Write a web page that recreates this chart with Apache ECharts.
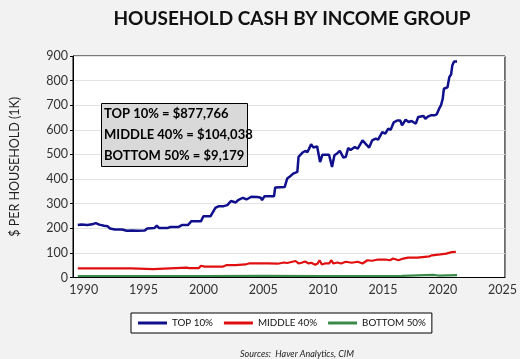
<!DOCTYPE html>
<html><head><meta charset="utf-8">
<script src="https://cdn.jsdelivr.net/npm/echarts@6/dist/echarts.min.js"></script>
<style>html,body{margin:0;padding:0;background:#f2f2f2}#c{width:520px;height:359px}</style>
</head><body><div id="c"></div>
<script>
const titleText = 'HOUSEHOLD CASH BY INCOME GROUP';
const yAxisName = '$ PER HOUSEHOLD (1K)';
const sourceText = 'Sources:  Haver Analytics, CIM';
const seriesNames = ['TOP 10%', 'MIDDLE 40%', 'BOTTOM 50%'];
const annotationLines = ['TOP 10% = $877,766', 'MIDDLE 40% = $104,038', 'BOTTOM 50% = $9,179'];
const xTickLabels = [1990, 1995, 2000, 2005, 2010, 2015, 2020, 2025];
const yTicks = {min: 0, max: 900, interval: 100};

const top10 = [
[1989.5,213],[1989.8,215],[1990.3,213],[1990.7,216],[1991.0,221],[1991.3,215],[1991.7,210],[1992.0,208],
[1992.2,199],[1992.6,195],[1993.2,195],[1993.6,190],[1994.0,191],[1994.5,190],[1995.1,191],[1995.3,199],
[1995.9,201],[1996.1,211],[1996.3,201],[1997.0,201],[1997.2,205],[1997.9,205],[1998.2,213],[1998.7,213],
[1999.0,229],[1999.8,229],[2000.0,249],[2000.6,249],[2000.75,256],[2001.0,283],[2001.3,290],[2001.7,290],
[2001.8,298],[2002.0,294],[2002.3,311],[2002.7,305],[2002.9,314],[2003.3,324],[2003.6,317],[2004.0,328],
[2004.5,327],[2004.8,324],[2004.9,314],[2005.1,330],[2005.9,330],[2006.0,366],[2006.8,368],[2007.0,402],
[2007.2,409],[2007.5,422],[2007.85,429],[2007.95,490],[2008.3,508],[2008.5,514],[2008.7,510],[2009.0,541],
[2009.2,528],[2009.5,533],[2009.75,469],[2009.95,499],[2010.5,499],[2010.75,449],[2010.95,497],[2011.2,505],
[2011.4,515],[2011.7,487],[2011.9,490],[2012.1,526],[2012.3,518],[2012.65,530],[2012.9,524],[2013.3,557],
[2013.6,541],[2013.85,528],[2014.1,557],[2014.4,564],[2014.6,560],[2014.95,591],[2015.2,585],[2015.45,605],
[2015.65,600],[2015.9,630],[2016.2,638],[2016.45,638],[2016.6,618],[2016.9,641],[2017.15,632],[2017.4,636],
[2017.75,625],[2017.95,652],[2018.4,656],[2018.55,645],[2018.8,655],[2019.0,659],[2019.3,659],[2019.5,663],
[2019.7,686],[2019.85,699],[2020.0,726],[2020.1,767],[2020.4,773],[2020.55,814],[2020.7,825],[2020.8,861],
[2020.95,878],[2021.2,878]
];
const middle40 = [
[1989.5,37],[1994.0,37],[1994.1,34],[1995.8,34],[1995.9,40],[1998.6,40],[1998.8,38],[1999.6,38],
[1999.8,48],[2000.1,44],[2001.6,44],[2001.9,50],[2002.7,50],[2002.8,53],[2003.5,53],[2003.8,57],
[2005.4,57],[2006.2,56],[2006.75,61],[2007.0,59],[2007.7,67],[2007.95,57],[2008.2,60],[2008.5,65],
[2008.8,57],[2009.0,60],[2009.35,52],[2009.55,57],[2009.7,70],[2009.9,53],[2010.15,57],[2010.5,57],
[2010.7,70],[2010.85,57],[2011.2,61],[2011.5,57],[2011.9,64],[2012.4,60],[2012.9,64],[2013.3,57],
[2013.7,70],[2014.1,68],[2014.6,73],[2015.2,73],[2015.6,70],[2015.85,77],[2016.3,70],[2016.7,77],
[2017.1,81],[2017.9,81],[2018.0,86],[2018.9,86],[2019.1,90],[2019.8,94],[2020.3,97],[2020.75,103],[2021.1,104]
];
const bottom50 = [
[1989.5,6],[1995.0,6],[2000.0,6],[2005.0,6.5],[2010.0,6],[2016.6,6.5],[2016.7,10.5],[2019.2,10.5],
[2019.3,8],[2019.6,8],[2019.7,9.5],[2021.2,9.5]
];
const colors = ['#10108c', '#e01010', '#3a8a4a'];

const chart = echarts.init(document.getElementById('c'));
const F = 'Lato, "Open Sans", sans-serif';
chart.setOption({
  backgroundColor: '#f2f2f2',
  animation: false,
  title: [
    {text: titleText, left: 287, top: 4, textAlign: 'center',
     textStyle: {fontFamily: F, fontSize: 19, fontWeight: 'bold', color: '#111'}},
    {text: sourceText, left: 292, top: 345, textAlign: 'center',
     textStyle: {fontFamily: F, fontSize: 9, fontStyle: 'italic', fontWeight: 'normal', color: '#222'}}
  ],
  grid: {left: 66, right: 11, top: 56, bottom: 81.5, show: true, backgroundColor: '#ffffff',
         borderColor: '#000', borderWidth: 1, containLabel: false},
  legend: {
    data: seriesNames, left: 131, top: 313, icon: 'rect', itemWidth: 29, itemHeight: 3, itemGap: 11,
    backgroundColor: '#ffffff', borderColor: '#000', borderWidth: 1, borderRadius: 0, padding: [5, 6, 5, 7],
    textStyle: {fontFamily: F, fontSize: 9.8, color: '#111'}
  },
  xAxis: {
    type: 'value', min: 1989.1, max: 2025.2,
    splitLine: {show: false}, axisTick: {show: false},
    axisLine: {show: true, lineStyle: {color: '#000'}},
    axisLabel: {customValues: xTickLabels, fontFamily: F, fontSize: 12.5, color: '#333', margin: 6,
                formatter: v => String(v)}
  },
  yAxis: {
    type: 'value', min: yTicks.min, max: yTicks.max, interval: yTicks.interval,
    name: yAxisName, nameLocation: 'middle', nameGap: 52, nameRotate: 90,
    nameTextStyle: {fontFamily: F, fontSize: 12.5, color: '#222'},
    axisLine: {show: true, lineStyle: {color: '#000'}},
    axisTick: {show: true, inside: false, length: 3, lineStyle: {color: '#000'}},
    splitLine: {show: true, lineStyle: {color: '#e2e2e2', width: 1}},
    axisLabel: {fontFamily: F, fontSize: 12.5, color: '#333', margin: 5}
  },
  series: [
    {name: seriesNames[0], type: 'line', data: top10, symbol: 'none', color: colors[0], lineStyle: {width: 2.5, color: colors[0]}, z: 4},
    {name: seriesNames[1], type: 'line', data: middle40, symbol: 'none', color: colors[1], lineStyle: {width: 2.2, color: colors[1]}, z: 3},
    {name: seriesNames[2], type: 'line', data: bottom50, symbol: 'none', color: colors[2], lineStyle: {width: 2.2, color: colors[2]}, z: 2}
  ],
  graphic: [
    {type: 'rect', z: 100, zlevel: 1, shape: {x: 101.5, y: 103.5, width: 146, height: 63}, style: {fill: '#d9d9d9', stroke: '#000', lineWidth: 1}},
    {type: 'text', z: 101, zlevel: 1, x: 104, y: 113.5, style: {text: annotationLines[0], font: 'bold 13px ' + F, fill: '#000', verticalAlign: 'middle'}},
    {type: 'text', z: 101, zlevel: 1, x: 104, y: 134.5, style: {text: annotationLines[1], font: 'bold 13px ' + F, fill: '#000', verticalAlign: 'middle'}},
    {type: 'text', z: 101, zlevel: 1, x: 104, y: 155.5, style: {text: annotationLines[2], font: 'bold 13px ' + F, fill: '#000', verticalAlign: 'middle'}}
  ]
});
</script></body></html>
